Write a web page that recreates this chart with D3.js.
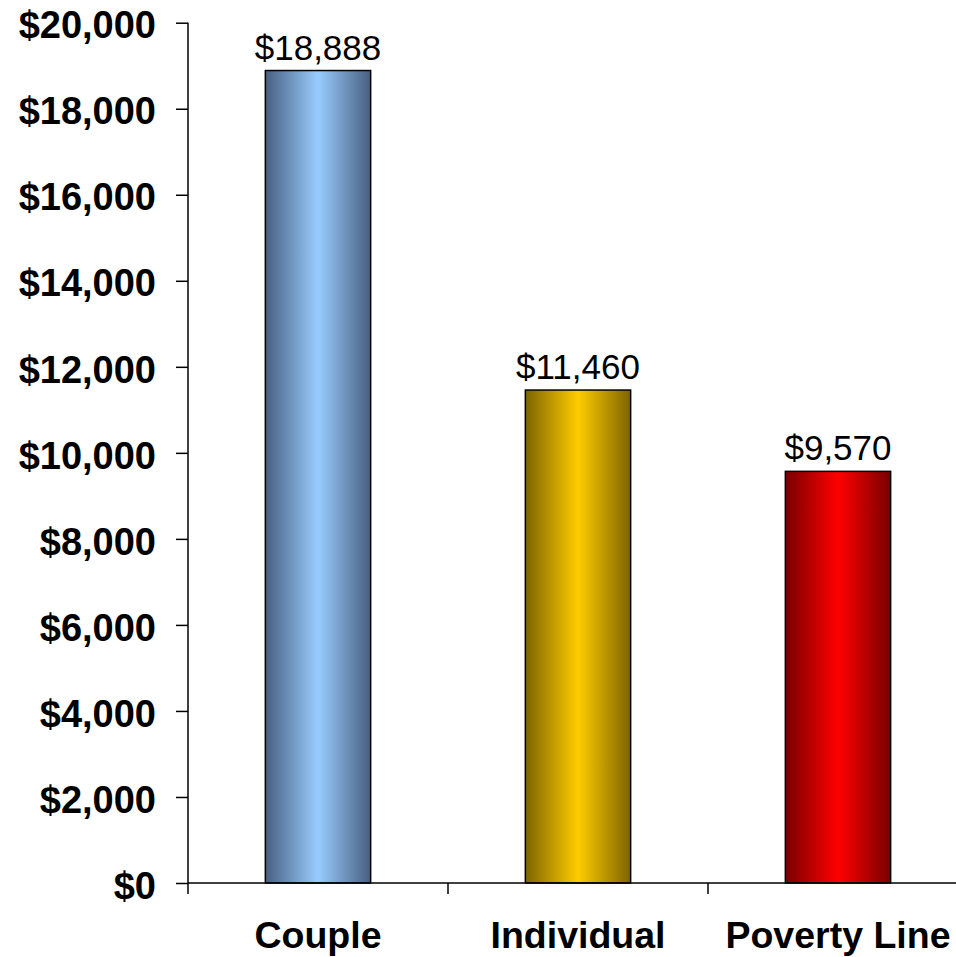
<!DOCTYPE html>
<html>
<head>
<meta charset="utf-8">
<script src="https://cdn.jsdelivr.net/npm/d3@7"></script>
<style>
  html, body { margin: 0; padding: 0; background: #fff; }
  svg { display: block; }
</style>
</head>
<body>
<div id="chart"></div>
<script>
// Annual income by household type
const categories = ["Couple", "Individual", "Poverty Line"];
const values = [18888, 11460, 9570];
const yTicks = [0, 2000, 4000, 6000, 8000, 10000, 12000, 14000, 16000, 18000, 20000];
const barEdge = ["#485f80", "#7d6400", "#780000"];
const barCenter = ["#99ccff", "#ffcc00", "#ff0000"];

const W = 956, H = 957;
const plotLeft = 188, plotRight = 968, plotTop = 22.7, plotBottom = 883;

const svg = d3.select("#chart").append("svg")
  .attr("width", W).attr("height", H);

const x = d3.scaleBand().domain(categories).range([plotLeft, plotRight]).padding(0);
const y = d3.scaleLinear().domain([0, 20000]).range([plotBottom, plotTop]);
const barW = x.bandwidth() * 0.405;

// Horizontal shading for each bar: dark at the edges, bright in the middle
const defs = svg.append("defs");
categories.forEach((c, i) => {
  const g = defs.append("linearGradient")
    .attr("id", "grad" + i).attr("x1", "0%").attr("x2", "100%")
    .attr("y1", "0%").attr("y2", "0%");
  g.append("stop").attr("offset", "0%").attr("stop-color", barEdge[i]);
  g.append("stop").attr("offset", "50%").attr("stop-color", barCenter[i]);
  g.append("stop").attr("offset", "100%").attr("stop-color", barEdge[i]);
});

// Bars
svg.append("g").selectAll("rect")
  .data(values)
  .join("rect")
  .attr("x", (d, i) => x(categories[i]) + x.bandwidth() / 2 - barW / 2)
  .attr("y", d => y(d))
  .attr("width", barW)
  .attr("height", d => y(0) - y(d))
  .attr("fill", (d, i) => `url(#grad${i})`)
  .attr("stroke", "#000")
  .attr("stroke-width", 1.5);

// Value labels
svg.append("g").selectAll("text")
  .data(values)
  .join("text")
  .attr("x", (d, i) => x(categories[i]) + x.bandwidth() / 2)
  .attr("y", d => y(d) - 11)
  .attr("text-anchor", "middle")
  .attr("font-family", "Liberation Sans, Arial, sans-serif")
  .attr("font-size", 35)
  .attr("fill", "#000")
  .text(d => "$" + d3.format(",")(d));

// Y axis
const yAxis = svg.append("g")
  .attr("transform", `translate(${plotLeft},0)`)
  .call(d3.axisLeft(y).tickValues(yTicks).tickSize(12).tickPadding(20)
    .tickFormat(d => "$" + d3.format(",")(d)));
yAxis.select(".domain").remove();
yAxis.selectAll(".tick line").attr("stroke", "#000").attr("stroke-width", 1.5);
yAxis.selectAll(".tick text")
  .attr("font-family", "Liberation Sans, Arial, sans-serif")
  .attr("font-weight", "bold")
  .attr("font-size", 38)
  .attr("fill", "#000")
  .attr("dy", "0.4em");
yAxis.append("line")
  .attr("x1", 0).attr("x2", 0)
  .attr("y1", plotTop).attr("y2", plotBottom + 11)
  .attr("stroke", "#000").attr("stroke-width", 1.5);

// X axis: ticks sit on the category boundaries
const xAxis = svg.append("g")
  .attr("transform", `translate(0,${plotBottom})`);
xAxis.append("line")
  .attr("x1", plotLeft).attr("x2", plotRight)
  .attr("y1", 0).attr("y2", 0)
  .attr("stroke", "#000").attr("stroke-width", 1.5);
xAxis.selectAll("line.tick")
  .data(categories.slice(1).map(c => x(c)).concat([plotRight]))
  .join("line")
  .attr("class", "tick")
  .attr("x1", d => d).attr("x2", d => d)
  .attr("y1", 0).attr("y2", 11)
  .attr("stroke", "#000").attr("stroke-width", 1.5);
xAxis.selectAll("text")
  .data(categories)
  .join("text")
  .attr("x", d => x(d) + x.bandwidth() / 2)
  .attr("y", 65)
  .attr("text-anchor", "middle")
  .attr("font-family", "Liberation Sans, Arial, sans-serif")
  .attr("font-weight", "bold")
  .attr("font-size", 37.5)
  .attr("fill", "#000")
  .text(d => d);
</script>
</body>
</html>
